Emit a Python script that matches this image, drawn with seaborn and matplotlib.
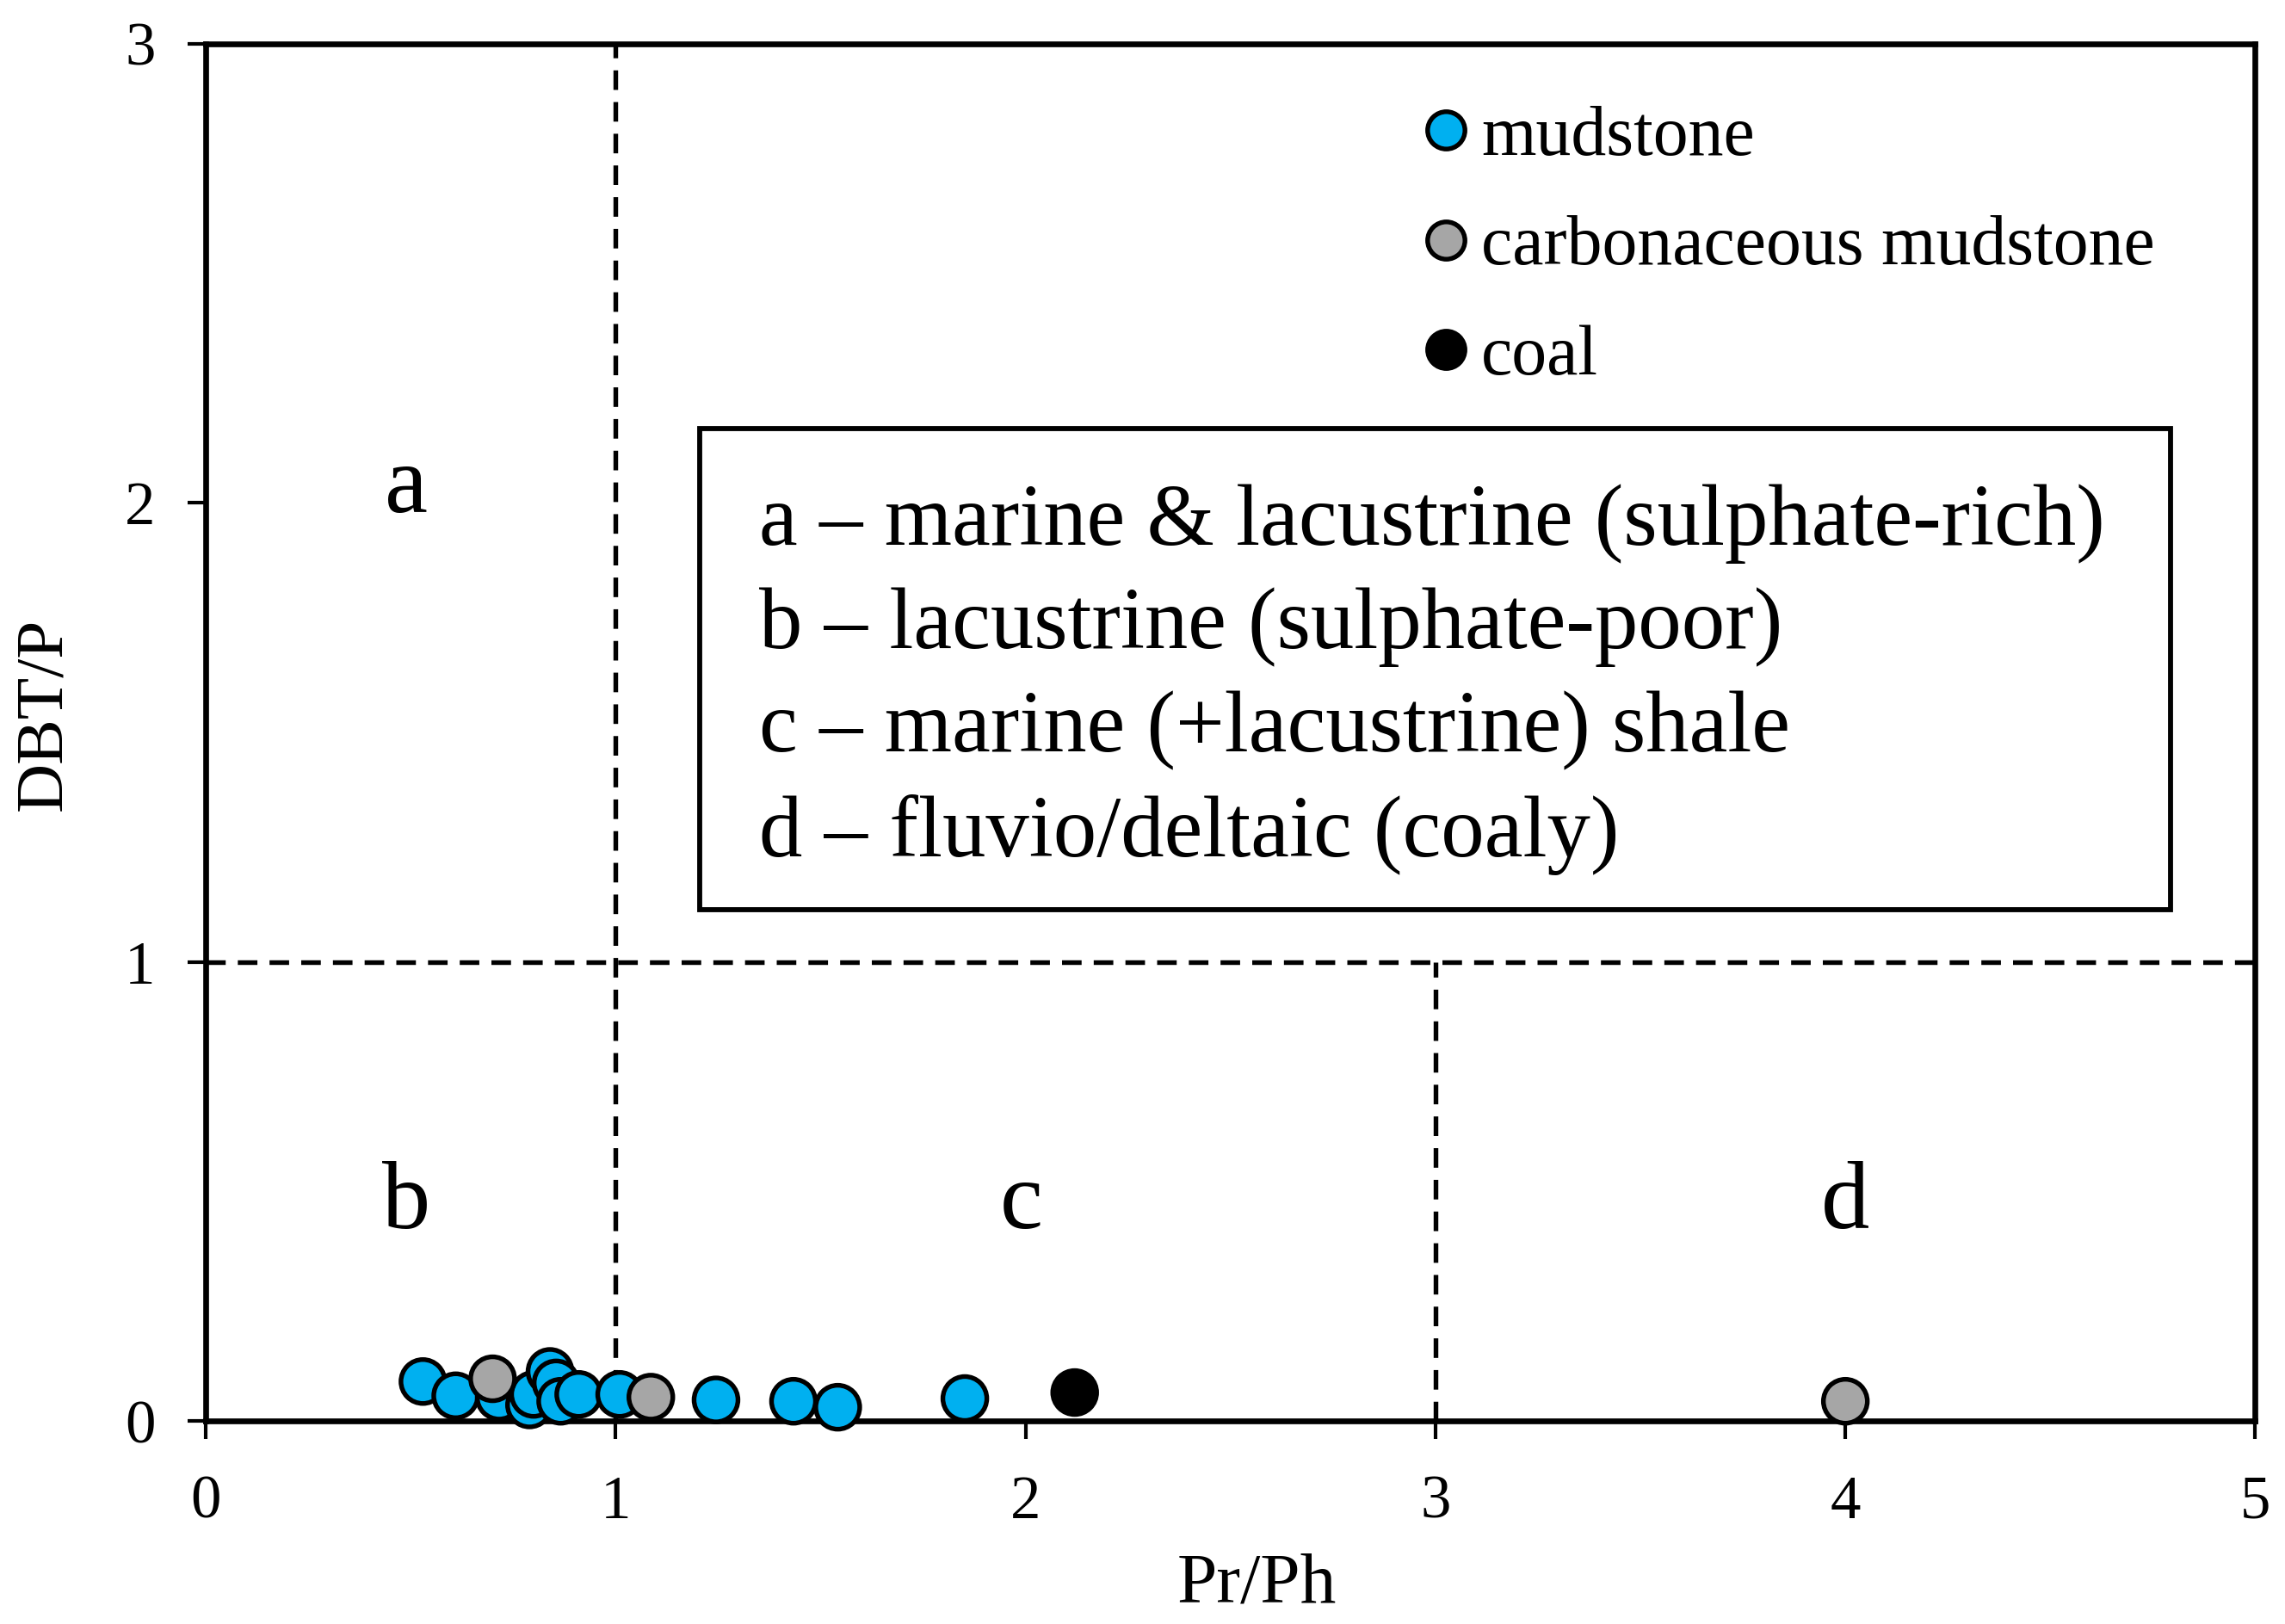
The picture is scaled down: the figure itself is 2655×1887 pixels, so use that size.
import numpy as np
import pandas as pd
import matplotlib
matplotlib.use("Agg")
import matplotlib.pyplot as plt
import seaborn as sns

# --------------------
# DATA
# --------------------
mud_x = [0.53, 0.61, 0.716, 0.79, 0.80, 0.84, 0.855, 0.866, 0.91, 1.01, 1.245, 1.434, 1.542, 1.852]
mud_y = [0.086, 0.055, 0.052, 0.035, 0.058, 0.108, 0.083, 0.043, 0.058, 0.058, 0.046, 0.043, 0.030, 0.049]
carb_x = [0.70, 1.086, 4.0]
carb_y = [0.092, 0.052, 0.043]
coal_x = [2.12]
coal_y = [0.062]

lithologies = ["mudstone", "carbonaceous mudstone", "coal"]
colors = ["#00B0F0", "#A6A6A6", "#000000"]

region_labels = ["a", "b", "c", "d"]
region_x = [0.49, 0.49, 1.99, 4.0]
region_y = [2.03, 0.47, 0.47, 0.47]

box_lines = [
    "a \u2013 marine & lacustrine (sulphate-rich)",
    "b \u2013 lacustrine (sulphate-poor)",
    "c \u2013 marine (+lacustrine) shale",
    "d \u2013 fluvio/deltaic (coaly)",
]

df = pd.DataFrame({
    "Pr/Ph": mud_x + carb_x + coal_x,
    "DBT/P": mud_y + carb_y + coal_y,
    "type": [lithologies[0]] * len(mud_x) + [lithologies[1]] * len(carb_x) + [lithologies[2]] * len(coal_x),
})

# --------------------
# PLOT
# --------------------
sns.set_style("ticks")
plt.rcParams["font.family"] = ["Liberation Serif", "DejaVu Serif"]
plt.rcParams["text.color"] = "black"
plt.rcParams["axes.labelcolor"] = "black"
plt.rcParams["xtick.color"] = "black"
plt.rcParams["ytick.color"] = "black"

fig = plt.figure(figsize=(8.85, 6.29), dpi=300)
ax = fig.add_axes([0.090, 0.125, 0.897, 0.848])

# quadrant lines
dash = (0, (4.2, 2.6))
ax.plot([1, 1], [0, 3], color="black", lw=1.3, linestyle=dash, zorder=1)
ax.plot([0, 5], [1, 1], color="black", lw=1.3, linestyle=dash, zorder=1)
ax.plot([3, 3], [0, 1], color="black", lw=1.3, linestyle=dash, zorder=1)

sns.scatterplot(data=df, x="Pr/Ph", y="DBT/P", hue="type", hue_order=lithologies,
                palette=colors, s=150, edgecolor="black", linewidth=1.3,
                clip_on=False, zorder=3, ax=ax)

ax.set_xlim(0, 5)
ax.set_ylim(0, 3)
ax.set_xticks([0, 1, 2, 3, 4, 5])
ax.set_yticks([0, 1, 2, 3])
ax.tick_params(axis="both", direction="out", length=5, width=1.0, labelsize=17)
ax.tick_params(axis="x", pad=10)
ax.tick_params(axis="y", pad=9)
ax.set_xlabel("Pr/Ph", fontsize=20, labelpad=6)
ax.set_ylabel("DBT/P", fontsize=19, labelpad=14)
ax.xaxis.label.set_x(0.513)
ax.yaxis.label.set_y(0.513)
for side in ["top", "right", "left", "bottom"]:
    ax.spines[side].set_visible(True)
    ax.spines[side].set_linewidth(1.6)
    ax.spines[side].set_color("black")

for lab, x, y in zip(region_labels, region_x, region_y):
    ax.text(x, y, lab, fontsize=27, ha="center", va="center")

# explanation box
box = plt.Rectangle((1.205, 1.113), 3.588, 1.048, fill=False, edgecolor="black", lw=1.4, zorder=2)
ax.add_patch(box)
for i, line in enumerate(box_lines):
    ax.text(1.35, 1.955 - i * 0.226, line, fontsize=24.2, ha="left", va="center")

leg = ax.legend(loc="upper left", bbox_to_anchor=(0.571, 0.976), frameon=False,
                fontsize=19.6, handletextpad=-0.1, handlelength=1.2, labelspacing=0.64,
                borderaxespad=0, markerscale=0.85)

fig.savefig("out.png", dpi=300)
plt.close()
